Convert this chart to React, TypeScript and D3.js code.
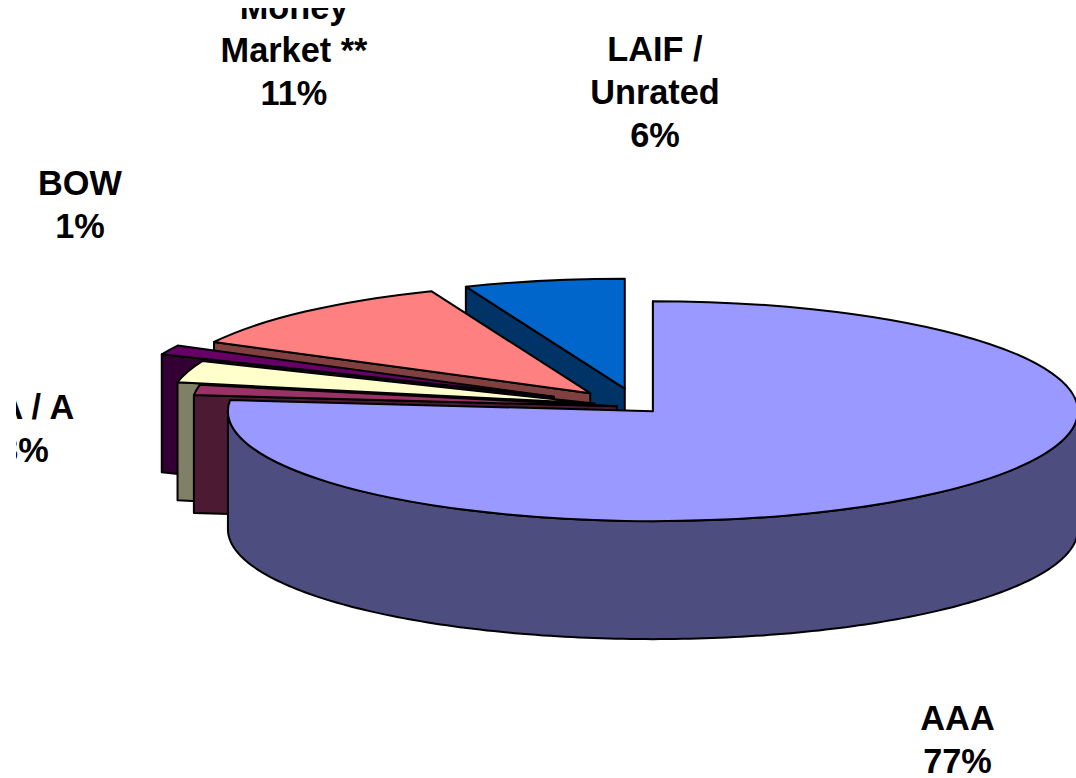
import * as d3 from 'd3'

// Slices clockwise from 12 o'clock, share of the pie in percent
const sliceNames = ['AAA', 'Other', 'AA / A', 'BOW', 'Money Market **', 'LAIF / Unrated']
const sliceValues = [76.6, 1.5, 3.2, 1.4, 11.2, 6.1]
const topColors = ['#9999ff', '#993366', '#ffffcc', '#660066', '#ff8080', '#0066cc']
const sideColors = ['#4d4d80', '#4d1a33', '#808066', '#330033', '#804040', '#003366']
const explodes = [21.5, 22, 46, 93.5, 72, 72]

// Data labels (the ones that are printed, including the cut off ones)
const labelLines = [['AAA', '77%'], ['LAIF /', 'Unrated', '6%'], ['Money', 'Market **', '11%'], ['BOW', '1%'], ['AA / A', '3%']]
const labelX = [957.5, 655, 294, 80, 24]
const labelY = [730, 61, 19, 195, 419]

const width = 1076
const height = 778
const cx = 638.5
const cy = 407
const rx = 425
const ry = 110
const depth = 118
const lineGap = 43
const squash = ry / rx

// screen position of an angle (clockwise from top) on the flattened circle
const rim = (a: number, r = 1): [number, number] => [Math.sin(a) * rx * r, -Math.cos(a) * ry * r]

export default function App() {
  const pie = d3.pie<number>().sort(null).value((d) => d)
  const arcs = pie(sliceValues)
  const arc = d3.arc<d3.PieArcDatum<number>>().innerRadius(0).outerRadius(rx)
  const line = d3.line()

  const slices = arcs.map((d, i) => {
    const mid = (d.startAngle + d.endAngle) / 2
    const [ox, oy] = rim(mid, explodes[i] / rx)
    const [sx, sy] = rim(d.startAngle)

    // cut face on the leading edge of the wedge
    const wall = line([[0, 0], [sx, sy], [sx, sy + depth], [0, depth]]) + 'Z'

    // outer wall, only the part on the near half of the pie shows
    const from = Math.max(d.startAngle, Math.PI / 2)
    const to = Math.min(d.endAngle, (3 * Math.PI) / 2)
    let outer: string | null = null
    if (to > from) {
      const angles = d3.range(0, 181).map((k) => from + ((to - from) * k) / 180)
      const edge = angles.map((a) => rim(a))
      const lower = edge.map(([x, y]) => [x, y + depth] as [number, number]).reverse()
      outer = line([...edge, ...lower]) + 'Z'
    }
    return { i, ox: cx + ox, oy: cy + oy, wall, outer, top: arc(d) as string }
  })

  // back to front: the wedge at the end of the pie is furthest away
  const order = [5, 4, 3, 2, 1, 0]

  return (
    <svg
      width={width}
      height={height}
      style={{ position: 'absolute', left: 0, top: 0, background: '#fff' }}
    >
      <defs>
        <clipPath id="labelCut">
          <rect x={16} y={8} width={width} height={height} />
        </clipPath>
      </defs>
      {order.map((idx) => {
        const s = slices[idx]
        return (
          <g key={sliceNames[idx]} transform={`translate(${s.ox},${s.oy})`} stroke="#000" strokeWidth={2} strokeLinejoin="round">
            <path d={s.wall} fill={sideColors[idx]} />
            {s.outer && <path d={s.outer} fill={sideColors[idx]} />}
            <path
              d={s.top}
              transform={`scale(1,${squash})`}
              fill={topColors[idx]}
              vectorEffect="non-scaling-stroke"
            />
          </g>
        )
      })}
      <g clipPath="url(#labelCut)" fontFamily="'Liberation Sans', Arial, sans-serif" fontWeight="bold" fontSize={34.3} textAnchor="middle" fill="#000">
        {labelLines.map((lines, i) => (
          <text key={lines[0]}>
            {lines.map((t, j) => (
              <tspan key={t} x={labelX[i]} y={labelY[i] + j * lineGap}>
                {t}
              </tspan>
            ))}
          </text>
        ))}
      </g>
    </svg>
  )
}
